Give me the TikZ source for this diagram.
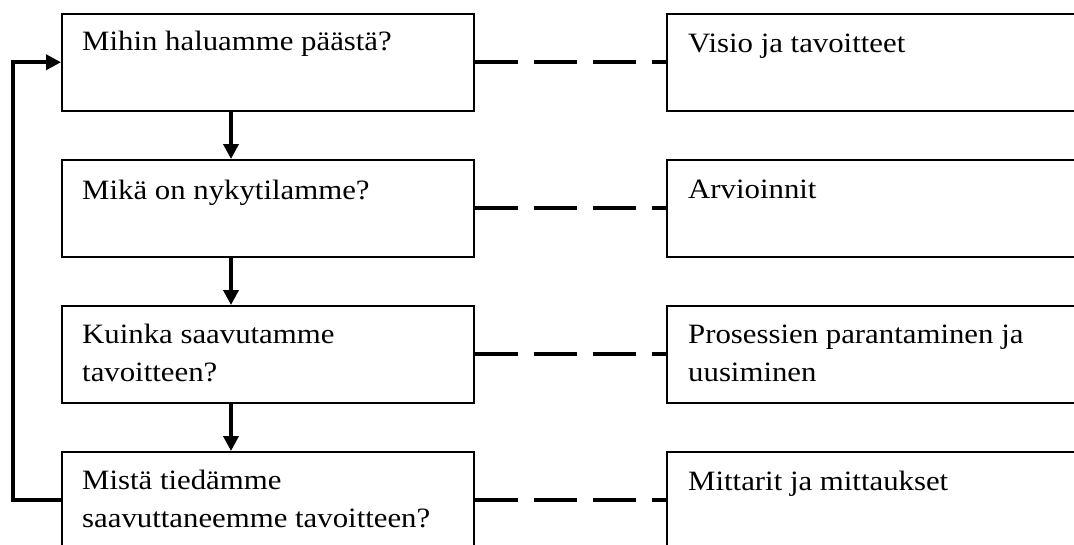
\documentclass[tikz,border=0pt]{standalone}
\usepackage{fontspec}
\setmainfont{Liberation Serif}[FakeStretch=1.1]
\usetikzlibrary{arrows.meta}
\begin{document}
\begin{tikzpicture}[x=1pt,y=-1pt,
  box/.style={draw=black,line width=1.5pt,rectangle,inner sep=0pt,anchor=north west,minimum height=97pt},
  lbox/.style={box,minimum width=412pt},
  rbox/.style={box,minimum width=440pt},
  txt/.style={anchor=north west,inner sep=0pt,align=left,font=\fontsize{28}{38}\selectfont},
  flow/.style={line width=3.6pt,line join=miter,-{Triangle[width=15pt,length=15pt]}},
  link/.style={line width=4pt,dash pattern=on 43pt off 16pt}]
\useasboundingbox (0,0) rectangle (1074,544);
\fill[white] (0,0) rectangle (1074,544);
\clip (0,0) rectangle (1074,544);
% left boxes
\node[lbox] (b1) at (61,13) {};
\node[lbox] (b2) at (61,159) {};
\node[lbox] (b3) at (61,305) {};
\node[lbox] (b4) at (61,451) {};
% right boxes
\node[rbox] (r1) at (666,13) {};
\node[rbox] (r2) at (666,159) {};
\node[rbox] (r3) at (666,305) {};
\node[rbox] (r4) at (666,451) {};
% texts
\node[txt] (t1) at ([shift={(21,11)}]b1.north west) {\strut Mihin haluamme päästä?};
\node[txt] (t2) at ([shift={(21,14)}]b2.north west) {\strut Mikä on nykytilamme?};
\node[txt] (t3) at ([shift={(21,12)}]b3.north west) {\strut Kuinka saavutamme\\\strut tavoitteen?};
\node[txt] (t4) at ([shift={(21,12)}]b4.north west) {\strut Mistä tiedämme\\\strut saavuttaneemme tavoitteen?};
\node[txt] (u1) at ([shift={(22,13)}]r1.north west) {\strut Visio ja tavoitteet};
\node[txt] (u2) at ([shift={(22,13)}]r2.north west) {\strut Arvioinnit};
\node[txt] (u3) at ([shift={(22,12)}]r3.north west) {\strut Prosessien parantaminen ja\\\strut uusiminen};
\node[txt] (u4) at ([shift={(22,13)}]r4.north west) {\strut Mittarit ja mittaukset};
% flow arrows
\coordinate (ax) at (231,0);
\draw[flow] (b1.south -| ax) -- (b2.north -| ax);
\draw[flow] (b2.south -| ax) -- (b3.north -| ax);
\draw[flow] (b3.south -| ax) -- (b4.north -| ax);
% feedback loop
\coordinate (fb) at (13,0);
\draw[flow] (b4.west) -- (b4.west -| fb) -- (b1.west -| fb) -- (b1.west);
% dashed links
\draw[link] (b1.east) -- (r1.west);
\draw[link] (b2.east) -- (r2.west);
\draw[link] (b3.east) -- (r3.west);
\draw[link] (b4.east) -- (r4.west);
\end{tikzpicture}
\end{document}
